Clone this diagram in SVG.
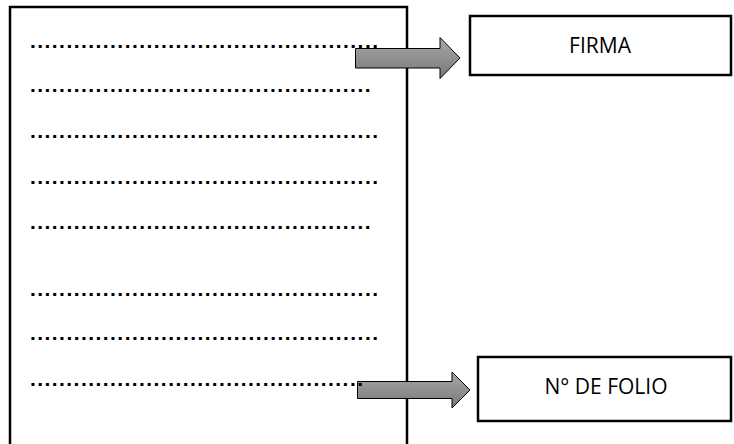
<svg xmlns="http://www.w3.org/2000/svg" width="734" height="444" viewBox="0 0 734 444">
<defs>
<linearGradient id="g" x1="0" y1="0" x2="0" y2="1">
<stop offset="0" stop-color="#a8a8a8"/>
<stop offset="1" stop-color="#787878"/>
</linearGradient>
<style>
.box{fill:#fff;stroke:#000;stroke-width:2.5}
.dots{font-family:"Liberation Sans",Arial,sans-serif;font-size:21px;font-weight:bold;fill:#000}
.lbl{font-family:"Open Sans","Liberation Sans",sans-serif;font-size:21px;fill:#000;text-anchor:middle}
.arr{fill:url(#g);stroke:#000;stroke-width:1}
</style>
</defs>
<g id="page">
<rect class="box" x="10" y="7" width="397" height="460"/>
</g>
<g id="firma">
<rect class="box" x="470" y="16" width="261" height="59"/>
<text class="lbl" x="600" y="53">FIRMA</text>
</g>
<g id="folio">
<rect class="box" x="478" y="357" width="253" height="64"/>
<text class="lbl" x="606" y="394">N° DE FOLIO</text>
</g>
<g id="connectors">
<path class="arr" d="M355.5,48.5 H440 V37.5 L460,58 L440,78.5 V68 H355.5 Z"/>
<path class="arr" d="M357.5,381.5 H452 V372 L470,390 L452,408 V398.5 H357.5 Z"/>
</g>
<g id="lines">
<text class="dots" x="30" y="48" textLength="348" lengthAdjust="spacing">................................................</text>
<text class="dots" x="30" y="92" textLength="340.5" lengthAdjust="spacing">...............................................</text>
<text class="dots" x="30" y="138" textLength="348" lengthAdjust="spacing">................................................</text>
<text class="dots" x="30" y="184" textLength="348" lengthAdjust="spacing">................................................</text>
<text class="dots" x="30" y="229" textLength="340.5" lengthAdjust="spacing">...............................................</text>
<text class="dots" x="30" y="296" textLength="348" lengthAdjust="spacing">................................................</text>
<text class="dots" x="30" y="340" textLength="348" lengthAdjust="spacing">................................................</text>
<text class="dots" x="30" y="386" textLength="333" lengthAdjust="spacing">..............................................</text>
</g>
</svg>
